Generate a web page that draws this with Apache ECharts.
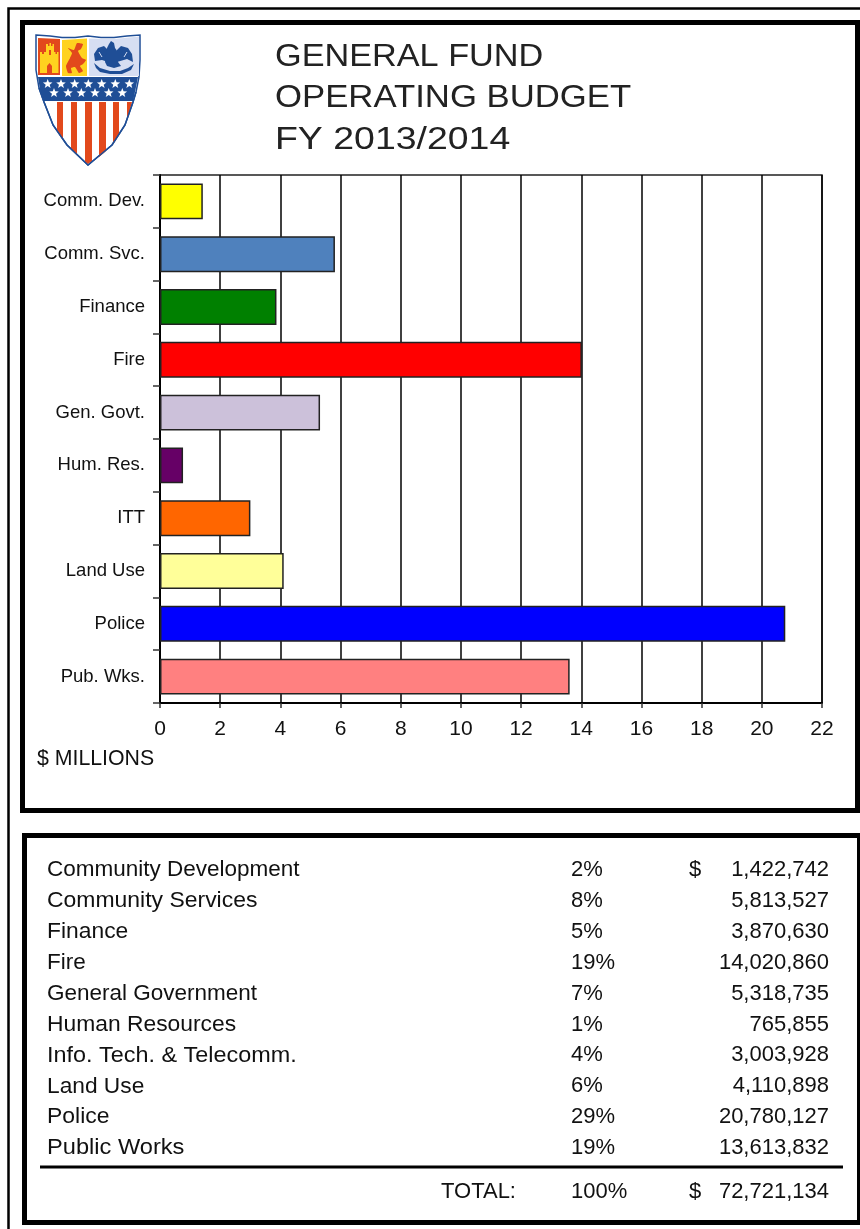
<!DOCTYPE html>
<html>
<head>
<meta charset="utf-8">
<style>html,body{margin:0;padding:0;background:#fff}#c{width:860px;height:1229px}</style>
<script src="https://cdn.jsdelivr.net/npm/echarts@6/dist/echarts.min.js"></script>
</head>
<body>
<div id="c"></div>
<script>
const shortNames = ['Comm. Dev.','Comm. Svc.','Finance','Fire','Gen. Govt.','Hum. Res.','ITT','Land Use','Police','Pub. Wks.'];
const fullNames = ['Community Development','Community Services','Finance','Fire','General Government','Human Resources','Info. Tech. & Telecomm.','Land Use','Police','Public Works'];
const amounts = [1422742,5813527,3870630,14020860,5318735,765855,3003928,4110898,20780127,13613832];
const shares = ['2%','8%','5%','19%','7%','1%','4%','6%','29%','19%'];
const barColors = ['#ffff00','#4f81bd','#008000','#ff0000','#ccc1da','#660066','#ff6600','#ffff99','#0000ff','#ff8080'];
const titleLines = ['GENERAL FUND','OPERATING BUDGET','FY 2013/2014'];
const titleStretch = [1.07, 1.085, 1.17];
const nameStretch = [1, 1.02, 1.015, 1, 1, 1.015, 1.04, 1.01, 1.02, 1.05];
const totalLabel = 'TOTAL:';
const totalShare = '100%';
const totalAmount = 72721134;
const axisCaption = '$ MILLIONS';

const font = '"Liberation Sans", Arial, sans-serif';
const fmt = n => n.toLocaleString('en-US');
const chart = echarts.init(document.getElementById('c'), null, {renderer:'canvas'});

const txt = (x, y, text, size, align, extra) => ({
  type:'text', x, y,
  style:Object.assign({text, fontFamily:font, fontSize:size, fill:'#111', align:align||'left', verticalAlign:'middle'}, extra||{})
});
const box = (x, y, w, h, lw) => ({
  type:'rect', shape:{x, y, width:w, height:h},
  style:{fill:'none', stroke:'#000', lineWidth:lw}
});

// Page frames
const graphics = [
  box(8.5, 8.5, 900, 1300, 2.5),
  box(22.5, 22.5, 835, 788, 5),
  box(24.5, 835.5, 835, 387, 5)
];

// Title block
titleLines.forEach((t, i) => {
  graphics.push(Object.assign(txt(275, 57 + i * 41.5, t, 32, 'left', {fill:'#222'}), {scaleX:titleStretch[i]}));
});
graphics.push(txt(37, 759, axisCaption, 21.3));

// Budget table
const rowTop = 870, rowStep = 30.9;
fullNames.forEach((name, i) => {
  const y = rowTop + i * rowStep;
  graphics.push(Object.assign(txt(47, y, name, 22.5), {scaleX:nameStretch[i]}));
  graphics.push(txt(571, y, shares[i], 22));
  graphics.push(txt(829, y, fmt(amounts[i]), 22, 'right'));
});
graphics.push(txt(689, rowTop, '$', 22));
graphics.push({type:'line', shape:{x1:40, y1:1167, x2:843, y2:1167}, style:{stroke:'#000', lineWidth:3}});
graphics.push(txt(441, 1192, totalLabel, 22));
graphics.push(txt(571, 1192, totalShare, 22));
graphics.push(txt(689, 1192, '$', 22));
graphics.push(txt(829, 1192, fmt(totalAmount), 22, 'right'));

// City crest
const crest = [];
const blue = '#1f4e96', red = '#e2491c', gold = '#ffd21f', pale = '#d6def2';
const poly = (points, fill, smooth) => ({type:'polygon', shape:{points, smooth:smooth||0}, style:{fill}});
function star(cx, cy, r) {
  const pts = [];
  for (let i = 0; i < 10; i++) {
    const a = -Math.PI / 2 + i * Math.PI / 5, q = i % 2 ? r * 0.42 : r;
    pts.push([cx + q * Math.cos(a), cy + q * Math.sin(a)]);
  }
  return pts;
}
const shield = [[36,35],[50,36],[62,37.5],[75,37.5],[88,36],[101,37.5],[114,37.5],[127,36],[140,35],[140,60],[139,77],[136,92],[133,102],[125,125],[112,145],[88,165],[67,145],[53,125],[44,102],[39,88],[36,70]];
crest.push({type:'polygon', shape:{points:shield}, style:{fill:'#fff', stroke:blue, lineWidth:1.5}});
// quartered panels
crest.push(poly([[38,38],[60,39],[60,75],[38,75]], red));
crest.push(poly([[62,40],[87,38.5],[87,76],[62,76]], gold));
crest.push(poly([[89,38.5],[114,39],[139,36.5],[139,76],[89,76]], pale));
// castle
crest.push(poly([[40,56],[40,52],[42,52],[42,54],[44,54],[44,52],[46,52],[46,44],[48,44],[48,46],[49.5,46],[49.5,43],[51,43],[51,46],[52.5,46],[52.5,44],[54,44],[54,52],[55.5,52],[55.5,54],[57,54],[57,52],[58.5,52],[58.5,73],[40,73]], gold));
crest.push(poly([[47,73],[47,66],[49.5,63],[52,66],[52,73]], red));
crest.push(poly([[49,50],[51,50],[51,55],[49,55]], red));
// lion
crest.push(poly([[66,66],[70,58],[72,53],[68,48],[74,50],[77,43],[83,44],[81,49],[78,51],[82,58],[86,60],[83,64],[80,66],[83,71],[79,73],[75,67],[71,68],[72,73],[68,73]], red, 0.15));
// eagle: wings, head and tail, then the scroll beneath
crest.push(poly([[95,61],[94,54],[98,48],[104,46],[108,50],[108,62],[102,60]], blue));
crest.push(poly([[117,50],[121,46],[128,48],[132,54],[133,62],[127,59],[117,62]], blue));
crest.push(poly([[107,48],[109,44],[111,41],[114,43],[115,48],[118,52],[118,62],[121,66],[114,68],[107,66],[105,62]], blue));
crest.push({type:'polyline', shape:{points:[[99,52],[102,57]]}, style:{fill:'none', stroke:pale, lineWidth:1}});
crest.push({type:'polyline', shape:{points:[[127,52],[124,57]]}, style:{fill:'none', stroke:pale, lineWidth:1}});
crest.push(poly([[94,63],[100,68],[110,71],[120,71],[128,68],[134,64],[131,70],[122,74],[110,74],[100,72],[96,68]], blue));
// field of stars
crest.push(poly([[38,77],[138,77],[135,92],[133,101],[44,101],[40,90]], blue));
[47.7,61,74.7,88.3,101.7,115.3,129.3].forEach(x => crest.push(poly(star(x,84,5), '#fff')));
[54,68,81.3,95,108.7,122.3].forEach(x => crest.push(poly(star(x,93,5), '#fff')));
// stripes
[
  [[57,102],[63,102],[63,140],[57,131]],
  [[71,102],[77,102],[77,155],[71,149]],
  [[85,102],[92,102],[92,161],[88,164],[85,162]],
  [[99,102],[106,102],[106,151],[99,157]],
  [[113,102],[119,102],[119,135],[113,144]],
  [[127,102],[132,102],[129,113],[127,118]]
].forEach(s => crest.push(poly(s, red)));
crest.push({type:'polyline', shape:{points:[[39,88],[44,102],[53,125],[67,145],[88,165],[112,145],[125,125],[133,102],[136,92]]}, style:{fill:'none', stroke:blue, lineWidth:1.5}});
graphics.push(...crest);

chart.setOption({
  animation:false,
  backgroundColor:'#fff',
  grid:{left:160, top:175, width:662, height:528, show:true, borderColor:'#222', borderWidth:1.5},
  xAxis:{
    type:'value', min:0, max:22, interval:2, position:'bottom',
    axisLine:{show:true, lineStyle:{color:'#000', width:2}},
    axisTick:{show:true, length:5, lineStyle:{color:'#333', width:1.5}},
    axisLabel:{color:'#111', fontFamily:font, fontSize:21, margin:16},
    splitLine:{show:true, lineStyle:{color:'#000', width:1.5}}
  },
  yAxis:{
    type:'category', inverse:true, data:shortNames,
    axisLine:{show:true, onZero:false, lineStyle:{color:'#000', width:2}},
    axisTick:{show:true, length:7, alignWithLabel:false, lineStyle:{color:'#333', width:1.5}},
    axisLabel:{color:'#111', fontFamily:font, fontSize:18.5, margin:15}
  },
  series:[{
    type:'bar', barWidth:'68%', silent:true,
    data:amounts.map((v,i)=>({value:v/1e6, itemStyle:{color:barColors[i], borderColor:'#222', borderWidth:1.5}})),
    z:3
  }],
  graphic:{elements:graphics.map(g => Object.assign({silent:true, z:10}, g))}
});
</script>
</body>
</html>
